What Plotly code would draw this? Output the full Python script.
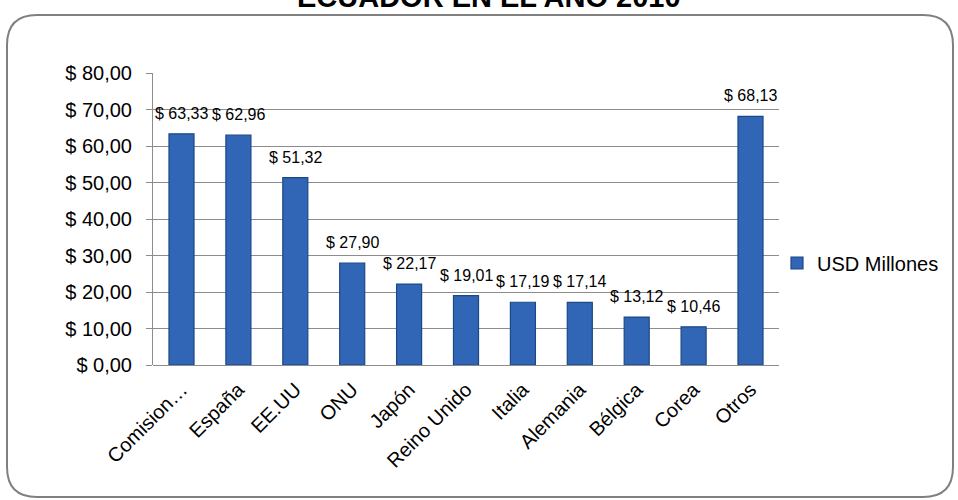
import plotly.graph_objects as go

categories = ["Comision…", "España", "EE.UU", "ONU", "Japón", "Reino Unido",
              "Italia", "Alemania", "Bélgica", "Corea", "Otros"]
values = [63.33, 62.96, 51.32, 27.90, 22.17, 19.01, 17.19, 17.14, 13.12, 10.46, 68.13]
tick_vals = [0, 10, 20, 30, 40, 50, 60, 70, 80]
tick_text = ["$ 0,00", "$ 10,00", "$ 20,00", "$ 30,00", "$ 40,00",
             "$ 50,00", "$ 60,00", "$ 70,00", "$ 80,00"]
series_name = "USD Millones"
title_text = "ECUADOR EN EL AÑO 2010"

labels = ["$ " + f"{v:.2f}".replace(".", ",") for v in values]

W, H = 958, 500
L, R, T, B = 153, 179, 73, 135
pw, ph = W - L - R, H - T - B


def px(x):
    return (x - L) / pw


def py(y):
    return (H - B - y) / ph


fig = go.Figure()
fig.add_trace(go.Bar(
    x=categories, y=values, name=series_name,
    marker=dict(color="#3165B5", line=dict(color="#1D4886", width=1.2)),
    showlegend=True,
))

# value labels above the bars, placed through the data axes
for c, v, t in zip(categories, values, labels):
    fig.add_annotation(x=c, y=v, xref="x", yref="y", text=t, showarrow=False,
                       xanchor="center", yanchor="bottom", yshift=10,
                       font=dict(family="Arial", size=16, color="#000000"))

# rounded border
x0, x1, y0, y1 = 7, 953, 15, 497
r = 30
path = (f"M {px(x0 + r)},{py(y0)} L {px(x1 - r)},{py(y0)} "
        f"Q {px(x1)},{py(y0)} {px(x1)},{py(y0 + r)} "
        f"L {px(x1)},{py(y1 - r)} Q {px(x1)},{py(y1)} {px(x1 - r)},{py(y1)} "
        f"L {px(x0 + r)},{py(y1)} Q {px(x0)},{py(y1)} {px(x0)},{py(y1 - r)} "
        f"L {px(x0)},{py(y0 + r)} Q {px(x0)},{py(y0)} {px(x0 + r)},{py(y0)} Z")
fig.add_shape(type="path", path=path, xref="paper", yref="paper",
              line=dict(color="#808080", width=2), layer="below")

fig.add_annotation(text="<b>" + title_text + "</b>", xref="paper", yref="paper",
                   x=px(489), y=py(15), xanchor="center", yanchor="bottom",
                   showarrow=False, font=dict(family="Arial", size=29, color="#000000"))

fig.update_layout(
    width=W, height=H,
    margin=dict(l=L, r=R, t=T, b=B, autoexpand=False),
    paper_bgcolor="white", plot_bgcolor="white",
    bargap=0.56,
    font=dict(family="Arial", color="#000000"),
    legend=dict(x=px(777), y=py(263), xanchor="left", yanchor="middle",
                font=dict(family="Arial", size=20, color="#000000"),
                bgcolor="rgba(0,0,0,0)", itemwidth=30),
    xaxis=dict(tickangle=-45, tickfont=dict(family="Arial", size=20, color="#000000"),
               showline=False, ticks="", showgrid=False,
               ticklabelstandoff=8),
    yaxis=dict(range=[0, 80], tickvals=tick_vals, ticktext=tick_text,
               tickfont=dict(family="Arial", size=20, color="#000000"),
               showgrid=True, gridcolor="#8C8C8C", gridwidth=1,
               zeroline=True, zerolinecolor="#8C8C8C", zerolinewidth=1,
               showline=True, linecolor="#8C8C8C", linewidth=1,
               ticks="outside", ticklen=6, tickcolor="#8C8C8C",
               ticklabelstandoff=10),
)

fig.write_html("out.html", config={"displayModeBar": False},
               post_script="document.body.style.margin='0px';document.body.style.overflow='hidden';")
